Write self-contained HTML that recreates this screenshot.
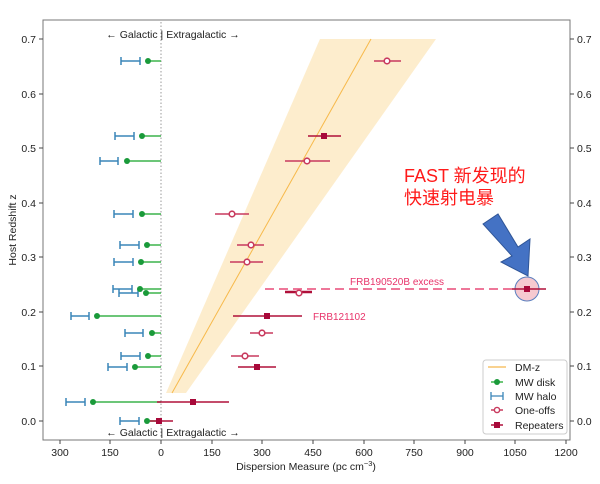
<!DOCTYPE html>
<html><head><meta charset="utf-8"><style>
html,body{margin:0;padding:0;background:#fff;}
svg{display:block;font-family:"Liberation Sans","Noto Sans CJK SC",sans-serif;}
</style></head><body>
<svg width="600" height="484" viewBox="0 0 600 484" xmlns="http://www.w3.org/2000/svg">
<rect width="600" height="484" fill="#fff"/>
<polygon points="166,393 186,393 436,39 320,39" fill="#fdebc8" opacity="0.9"/>
<line x1="172" y1="393" x2="371" y2="39" stroke="#f7b94a" stroke-width="1"/>
<line x1="161" y1="22" x2="161" y2="438" stroke="#999" stroke-width="1" stroke-dasharray="1.5,2"/>
<rect x="43" y="20" width="527" height="420" fill="none" stroke="#777" stroke-width="1"/>
<g stroke="#444" stroke-width="1">
<line x1="60" y1="440" x2="60" y2="444"/><line x1="110" y1="440" x2="110" y2="444"/><line x1="161" y1="440" x2="161" y2="444"/><line x1="212" y1="440" x2="212" y2="444"/><line x1="262" y1="440" x2="262" y2="444"/><line x1="313" y1="440" x2="313" y2="444"/><line x1="364" y1="440" x2="364" y2="444"/><line x1="414" y1="440" x2="414" y2="444"/><line x1="465" y1="440" x2="465" y2="444"/><line x1="515" y1="440" x2="515" y2="444"/><line x1="566" y1="440" x2="566" y2="444"/>
<line x1="39" y1="39" x2="43" y2="39"/><line x1="39" y1="94" x2="43" y2="94"/><line x1="39" y1="148" x2="43" y2="148"/><line x1="39" y1="203" x2="43" y2="203"/><line x1="39" y1="257" x2="43" y2="257"/><line x1="39" y1="312" x2="43" y2="312"/><line x1="39" y1="366" x2="43" y2="366"/><line x1="39" y1="421" x2="43" y2="421"/>
<line x1="570" y1="39" x2="574" y2="39"/><line x1="570" y1="94" x2="574" y2="94"/><line x1="570" y1="148" x2="574" y2="148"/><line x1="570" y1="203" x2="574" y2="203"/><line x1="570" y1="257" x2="574" y2="257"/><line x1="570" y1="312" x2="574" y2="312"/><line x1="570" y1="366" x2="574" y2="366"/><line x1="570" y1="421" x2="574" y2="421"/>
</g>
<g font-size="10.5" fill="#222" text-anchor="middle">
<text x="60" y="456">300</text><text x="110" y="456">150</text><text x="161" y="456">0</text><text x="212" y="456">150</text><text x="262" y="456">300</text><text x="313" y="456">450</text><text x="364" y="456">600</text><text x="414" y="456">750</text><text x="465" y="456">900</text><text x="515" y="456">1050</text><text x="566" y="456">1200</text>
</g>
<g font-size="10.5" fill="#222" text-anchor="end">
<text x="36" y="43">0.7</text><text x="36" y="98">0.6</text><text x="36" y="152">0.5</text><text x="36" y="207">0.4</text><text x="36" y="261">0.3</text><text x="36" y="316">0.2</text><text x="36" y="370">0.1</text><text x="36" y="425">0.0</text>
</g>
<g font-size="10.5" fill="#222">
<text x="577" y="43">0.7</text><text x="577" y="98">0.6</text><text x="577" y="152">0.5</text><text x="577" y="207">0.4</text><text x="577" y="261">0.3</text><text x="577" y="316">0.2</text><text x="577" y="370">0.1</text><text x="577" y="425">0.0</text>
</g>
<text x="306" y="470" font-size="10.5" fill="#222" text-anchor="middle">Dispersion Measure (pc cm<tspan font-size="7.5" dy="-4">−3</tspan><tspan dy="4">)</tspan></text>
<text transform="translate(16,230) rotate(-90)" font-size="10.5" fill="#222" text-anchor="middle">Host Redshift z</text>
<text x="173" y="38" font-size="10.5" fill="#222" text-anchor="middle">← Galactic | Extragalactic →</text>
<text x="173" y="436" font-size="10.5" fill="#222" text-anchor="middle">← Galactic | Extragalactic →</text>
<g stroke="#3a85b8" stroke-width="1.5" fill="none">
<path d="M121,61H140M121,57V65M140,57V65"/>
<path d="M115,136H134M115,132V140M134,132V140"/>
<path d="M100,161H118M100,157V165M118,157V165"/>
<path d="M114,214H133M114,210V218M133,210V218"/>
<path d="M120,245H139M120,241V249M139,241V249"/>
<path d="M114,262H133M114,258V266M133,258V266"/>
<path d="M113,289H132M113,285V293M132,285V293"/>
<path d="M119,293H138M119,289V297M138,289V297"/>
<path d="M71,316H89M71,312V320M89,312V320"/>
<path d="M125,333H143M125,329V337M143,329V337"/>
<path d="M121,356H140M121,352V360M140,352V360"/>
<path d="M108,367H127M108,363V371M127,363V371"/>
<path d="M66,402H85M66,398V406M85,398V406"/>
<path d="M120,421H139M120,417V425M139,417V425"/>
</g>
<g stroke="#3cb44b" stroke-width="1.5" fill="#1a9a3a">
<line x1="148" y1="61" x2="161" y2="61"/><circle cx="148" cy="61" r="3" stroke="none"/>
<line x1="142" y1="136" x2="161" y2="136"/><circle cx="142" cy="136" r="3" stroke="none"/>
<line x1="127" y1="161" x2="161" y2="161"/><circle cx="127" cy="161" r="3" stroke="none"/>
<line x1="142" y1="214" x2="161" y2="214"/><circle cx="142" cy="214" r="3" stroke="none"/>
<line x1="147" y1="245" x2="161" y2="245"/><circle cx="147" cy="245" r="3" stroke="none"/>
<line x1="141" y1="262" x2="161" y2="262"/><circle cx="141" cy="262" r="3" stroke="none"/>
<line x1="140" y1="289" x2="161" y2="289"/><circle cx="140" cy="289" r="3" stroke="none"/>
<line x1="146" y1="293" x2="161" y2="293"/><circle cx="146" cy="293" r="3" stroke="none"/>
<line x1="97" y1="316" x2="161" y2="316"/><circle cx="97" cy="316" r="3" stroke="none"/>
<line x1="152" y1="333" x2="161" y2="333"/><circle cx="152" cy="333" r="3" stroke="none"/>
<line x1="148" y1="356" x2="161" y2="356"/><circle cx="148" cy="356" r="3" stroke="none"/>
<line x1="135" y1="367" x2="161" y2="367"/><circle cx="135" cy="367" r="3" stroke="none"/>
<line x1="93" y1="402" x2="161" y2="402"/><circle cx="93" cy="402" r="3" stroke="none"/>
<line x1="147" y1="421" x2="161" y2="421"/><circle cx="147" cy="421" r="3" stroke="none"/>
</g>
<line x1="265" y1="289" x2="512" y2="289" stroke="#ee7799" stroke-width="2" stroke-dasharray="9,5"/>
<circle cx="527" cy="289" r="12" fill="#f6c9d0" stroke="#5b7fbf" stroke-width="1"/>
<g stroke="#b0103a" stroke-width="1.6" fill="#a8093a">
<line x1="308" y1="136" x2="341" y2="136"/><rect x="321" y="133" width="6" height="6" stroke="none"/>
<line x1="233" y1="316" x2="302" y2="316"/><rect x="264" y="313" width="6" height="6" stroke="none"/>
<line x1="238" y1="367" x2="276" y2="367"/><rect x="254" y="364" width="6" height="6" stroke="none"/>
<line x1="157" y1="402" x2="229" y2="402"/><rect x="190" y="399" width="6" height="6" stroke="none"/>
<line x1="150" y1="421" x2="173" y2="421"/><rect x="156" y="418" width="6" height="6" stroke="none"/>
<line x1="285" y1="292" x2="312" y2="292" stroke-width="2.5"/>
<line x1="512" y1="289" x2="546" y2="289"/><rect x="524" y="286" width="6" height="6" stroke="none"/>
</g>
<g stroke="#c83a5e" stroke-width="1.6" fill="#fff">
<line x1="374" y1="61" x2="401" y2="61"/><circle cx="387" cy="61" r="2.8"/>
<line x1="285" y1="161" x2="330" y2="161"/><circle cx="307" cy="161" r="2.8"/>
<line x1="215" y1="214" x2="249" y2="214"/><circle cx="232" cy="214" r="2.8"/>
<line x1="237" y1="245" x2="264" y2="245"/><circle cx="251" cy="245" r="2.8"/>
<line x1="230" y1="262" x2="263" y2="262"/><circle cx="247" cy="262" r="2.8"/>
<circle cx="299" cy="293" r="2.8"/>
<line x1="250" y1="333" x2="273" y2="333"/><circle cx="262" cy="333" r="2.8"/>
<line x1="231" y1="356" x2="259" y2="356"/><circle cx="245" cy="356" r="2.8"/>
</g>
<text x="350" y="285" font-size="10" fill="#e8336a">FRB190520B excess</text>
<text x="313" y="320" font-size="10" fill="#e8336a">FRB121102</text>
<text x="404" y="182" font-size="18" fill="#ff1a1a">FAST 新发现的</text>
<text x="404" y="204" font-size="18" fill="#ff1a1a">快速射电暴</text>
<polygon points="483,224 498,214 518,247 530,239 528,276 501,262 512,256" fill="#4472c4" stroke="#2f5597" stroke-width="1"/>
<rect x="483" y="360" width="84" height="74" rx="3" fill="#fff" stroke="#ccc" stroke-width="1"/>
<line x1="488" y1="367" x2="506" y2="367" stroke="#f7c46c" stroke-width="1.5"/>
<line x1="491" y1="382" x2="503" y2="382" stroke="#3cb44b" stroke-width="1.5"/><circle cx="497" cy="382" r="3" fill="#1a9a3a"/>
<path d="M491,396H503M491,392V400M503,392V400" stroke="#3a85b8" stroke-width="1.3" fill="none"/>
<line x1="491" y1="410" x2="503" y2="410" stroke="#c83a5e" stroke-width="1.5"/><circle cx="497" cy="410" r="2.6" fill="#fff" stroke="#c83a5e" stroke-width="1.4"/>
<line x1="491" y1="425" x2="503" y2="425" stroke="#b0103a" stroke-width="1.5"/><rect x="494" y="422" width="6" height="6" fill="#a8093a"/>
<g font-size="10.5" fill="#222">
<text x="515" y="371">DM-z</text><text x="515" y="386">MW disk</text><text x="515" y="400">MW halo</text><text x="515" y="414">One-offs</text><text x="515" y="429">Repeaters</text>
</g>
</svg>
</body></html>
